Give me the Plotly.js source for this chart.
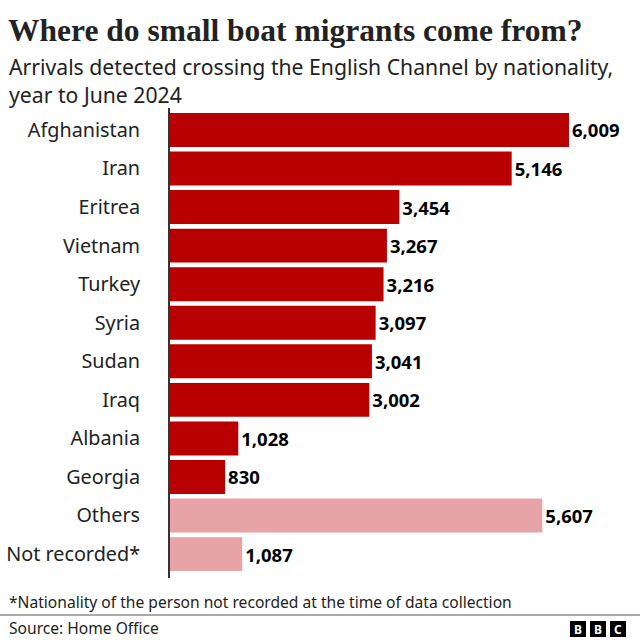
<!DOCTYPE html>
<html>
<head>
<meta charset="utf-8">
<script src="https://cdn.plot.ly/plotly-3.0.1.min.js"></script>
<style>
  html, body { margin: 0; padding: 0; background: #fff; }
  #plot { width: 640px; height: 640px; }
</style>
</head>
<body>
<div id="plot"></div>
<script>
"use strict";

// Arrivals by nationality, year to June 2024
const nationalities = ["Afghanistan", "Iran", "Eritrea", "Vietnam", "Turkey", "Syria",
                       "Sudan", "Iraq", "Albania", "Georgia", "Others", "Not recorded*"];
const arrivals = [6009, 5146, 3454, 3267, 3216, 3097, 3041, 3002, 1028, 830, 5607, 1087];
const namedCount = 10;   // first ten are individual nationalities

const DARK = "#b80000";
const LIGHT = "#e8a3a6";
const SANS = "Noto Sans, Open Sans, sans-serif";

const barColors = nationalities.map((_, i) => i < namedCount ? DARK : LIGHT);
const valueText = arrivals.map(v => v.toLocaleString("en-GB"));

const trace = {
    type: "bar",
    orientation: "h",
    x: arrivals,
    y: nationalities,
    marker: { color: barColors },
    text: valueText,
    textposition: "outside",
    textfont: { family: SANS, size: 18.5, color: "#000", weight: "bold" },
    cliponaxis: false,
    hoverinfo: "skip",
};

// paper coords: plot area spans x 170..600 px, y 108..578 px
const px = x => (x - 170) / 430;
const py = y => (578 - y) / 470;

const layout = {
    width: 640, height: 640,
    margin: { l: 170, r: 40, t: 108, b: 62 },
    paper_bgcolor: "#fff",
    plot_bgcolor: "#fff",
    showlegend: false,
    bargap: 0.12,
    font: { family: SANS, color: "#222" },
    xaxis: {
        range: [0, 6476],
        visible: false,
        fixedrange: true,
    },
    yaxis: {
        range: [11.62, -0.57],
        showline: true,
        linecolor: "#333",
        linewidth: 2,
        ticks: "",
        ticklabelstandoff: 24,
        tickfont: { family: SANS, size: 19.8, color: "#222" },
        showgrid: false,
        fixedrange: true,
    },
    title: {
        text: "<b>Where do small boat migrants come from?</b>",
        x: 8 / 640, xanchor: "left", xref: "container",
        y: 1 - 30 / 640, yanchor: "middle", yref: "container",
        font: { family: "Liberation Serif, serif", size: 31.5, color: "#222" },
    },
    annotations: [
        { text: "Arrivals detected crossing the English Channel by nationality,<br>year to June 2024",
          xref: "paper", yref: "paper", x: px(7), y: py(81),
          xanchor: "left", yanchor: "middle", align: "left", showarrow: false,
          font: { family: SANS, size: 21.2, color: "#222" } },
        { text: "*Nationality of the person not recorded at the time of data collection",
          xref: "paper", yref: "paper", x: px(7), y: py(602),
          xanchor: "left", yanchor: "middle", showarrow: false,
          font: { family: SANS, size: 15.6, color: "#222" } },
        { text: "Source: Home Office",
          xref: "paper", yref: "paper", x: px(7), y: py(628),
          xanchor: "left", yanchor: "middle", showarrow: false,
          font: { family: SANS, size: 15.6, color: "#222" } },
    ],
    shapes: [
        { type: "line", xref: "paper", yref: "paper",
          x0: px(0), x1: px(640), y0: py(615), y1: py(615),
          line: { color: "#555", width: 1 } },
    ],
};

// BBC blocks
["B", "B", "C"].forEach((ch, i) => {
    const cx = 578 + i * 20;
    layout.shapes.push({
        type: "rect", xref: "paper", yref: "paper",
        x0: px(cx - 8), x1: px(cx + 8), y0: py(621), y1: py(637),
        fillcolor: "#000", line: { width: 0 },
    });
    layout.annotations.push({
        text: "<b>" + ch + "</b>", xref: "paper", yref: "paper",
        x: px(cx), y: py(629.5), xanchor: "center", yanchor: "middle",
        showarrow: false, font: { family: SANS, size: 12, color: "#fff" },
    });
});

Plotly.newPlot("plot", [trace], layout, { displayModeBar: false, staticPlot: true });
</script>
</body>
</html>
